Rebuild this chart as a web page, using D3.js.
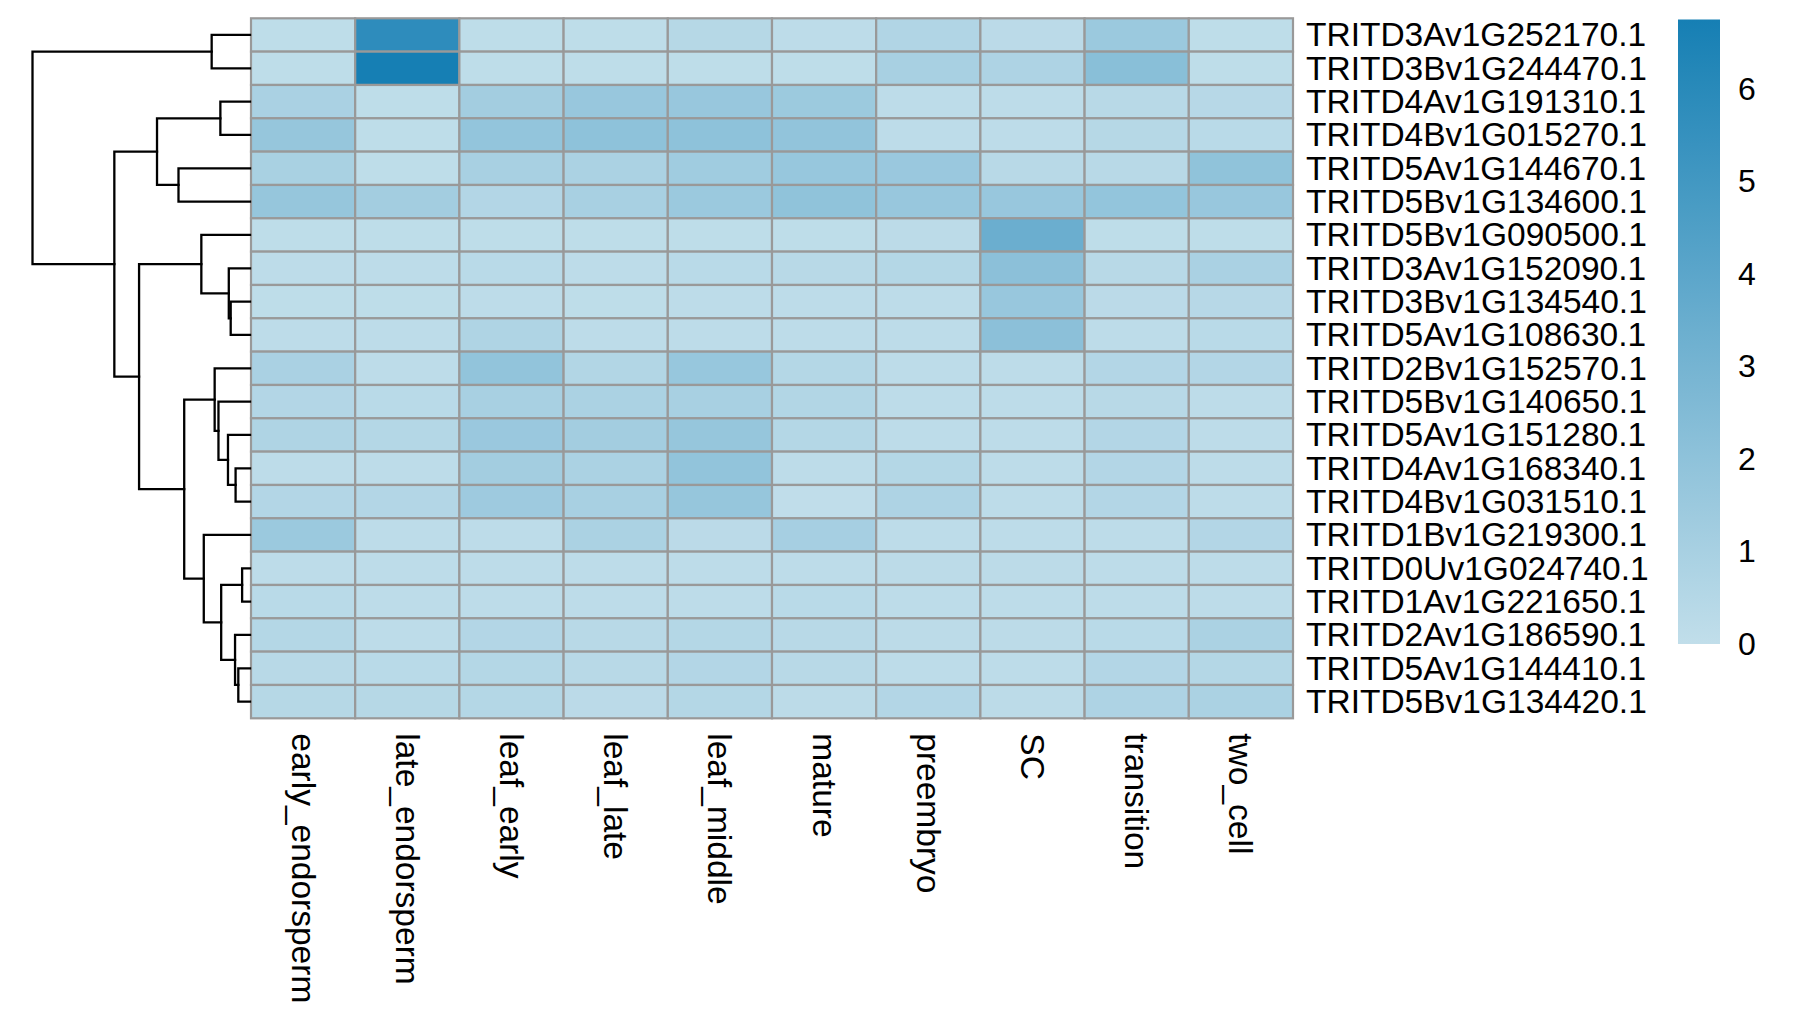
<!DOCTYPE html>
<html>
<head>
<meta charset="utf-8">
<script src="https://cdn.jsdelivr.net/npm/d3@7"></script>
<style>
  html, body { margin: 0; padding: 0; background: #ffffff; }
  svg { display: block; }
  text { font-family: "Liberation Sans", Arial, Helvetica, sans-serif; fill: #000; }
</style>
</head>
<body>
<svg id="chart" width="1797" height="1032"></svg>
<script>
// ---------------- data ----------------
const genes = [
  "TRITD3Av1G252170.1","TRITD3Bv1G244470.1","TRITD4Av1G191310.1","TRITD4Bv1G015270.1",
  "TRITD5Av1G144670.1","TRITD5Bv1G134600.1","TRITD5Bv1G090500.1","TRITD3Av1G152090.1",
  "TRITD3Bv1G134540.1","TRITD5Av1G108630.1","TRITD2Bv1G152570.1","TRITD5Bv1G140650.1",
  "TRITD5Av1G151280.1","TRITD4Av1G168340.1","TRITD4Bv1G031510.1","TRITD1Bv1G219300.1",
  "TRITD0Uv1G024740.1","TRITD1Av1G221650.1","TRITD2Av1G186590.1","TRITD5Av1G144410.1",
  "TRITD5Bv1G134420.1"
];
const samples = ["early_endorsperm","late_endorsperm","leaf_early","leaf_late","leaf_middle",
                 "mature","preembryo","SC","transition","two_cell"];

// expression values, one row per gene (same order as genes), columns as samples
const values = [
  [0.10, 5.80, 0.10, 0.10, 0.45, 0.15, 0.65, 0.25, 1.50, 0.10],
  [0.10, 6.75, 0.10, 0.10, 0.10, 0.10, 1.00, 0.75, 2.20, 0.10],
  [0.90, 0.10, 1.20, 1.60, 1.60, 1.45, 0.15, 0.15, 0.35, 0.40],
  [1.70, 0.10, 1.80, 2.00, 2.00, 1.85, 0.15, 0.15, 0.45, 0.30],
  [0.95, 0.10, 1.00, 0.85, 1.30, 1.65, 1.55, 0.35, 0.35, 1.95],
  [1.70, 1.20, 0.55, 1.00, 1.50, 1.95, 1.60, 1.60, 1.80, 1.60],
  [0.10, 0.10, 0.10, 0.10, 0.10, 0.10, 0.20, 3.40, 0.10, 0.10],
  [0.15, 0.15, 0.30, 0.15, 0.30, 0.35, 0.50, 2.10, 0.35, 0.90],
  [0.10, 0.10, 0.15, 0.10, 0.15, 0.15, 0.15, 1.60, 0.25, 0.40],
  [0.15, 0.15, 0.70, 0.15, 0.15, 0.15, 0.15, 2.10, 0.15, 0.30],
  [0.90, 0.15, 1.85, 0.60, 1.65, 0.50, 0.15, 0.15, 0.55, 0.55],
  [0.55, 0.30, 1.00, 0.85, 1.00, 0.60, 0.15, 0.15, 0.35, 0.15],
  [0.70, 0.50, 1.55, 1.20, 1.70, 0.50, 0.15, 0.15, 0.55, 0.15],
  [0.15, 0.15, 1.20, 0.85, 1.85, 0.15, 0.50, 0.15, 0.55, 0.15],
  [0.55, 0.55, 1.40, 1.00, 1.70, 0.05, 0.75, 0.15, 0.55, 0.15],
  [1.50, 0.15, 0.15, 0.85, 0.25, 1.05, 0.15, 0.15, 0.15, 0.55],
  [0.15, 0.15, 0.15, 0.15, 0.15, 0.15, 0.20, 0.20, 0.15, 0.15],
  [0.30, 0.15, 0.15, 0.15, 0.15, 0.30, 0.15, 0.15, 0.15, 0.15],
  [0.50, 0.15, 0.55, 0.35, 0.50, 0.35, 0.20, 0.20, 0.30, 0.85],
  [0.35, 0.30, 0.50, 0.35, 0.55, 0.35, 0.15, 0.15, 0.55, 0.50],
  [0.45, 0.45, 0.50, 0.25, 0.50, 0.20, 0.55, 0.20, 0.75, 0.85]
];

// row dendrogram, hclust-style: negative = leaf (1-based row), positive = earlier merge (1-based)
const mergeLeft  = [-17, -20, -14, -19,  -9,  -8, -13,  1,  -3, -12, -11,  -1, -16,  -7, 11,  -5,  9, 14, 17, 12];
const mergeRight = [-18, -21, -15,   2, -10,   5,   3,  4,  -4,   7,  10,  -2,   8,   6, 13,  -6, 16, 15, 18, 19];
const mergeHeight = [0.29, 0.43, 0.53, 0.55, 0.71, 0.78, 0.81, 1.06, 1.09, 1.16,
                     1.30, 1.41, 1.70, 1.79, 2.42, 2.63, 3.42, 4.08, 4.99, 8.00];

const legendTicks = [0, 1, 2, 3, 4, 5, 6];

// ---------------- layout ----------------
const svg = d3.select("#chart");
const hm = { left: 251, right: 1293, top: 18.3, bottom: 718.3 };
const dendroLeft = 32.5;

const x = d3.scaleBand().domain(samples).range([hm.left, hm.right]).padding(0);
const y = d3.scaleBand().domain(genes).range([hm.top, hm.bottom]).padding(0);

const vmax = d3.max(values.flat());
const color = d3.scaleLinear().domain([0, vmax]).range(["#c1deea", "#167fb4"]).interpolate(d3.interpolateRgb);

// cells
const cells = [];
values.forEach((row, i) => row.forEach((v, j) => cells.push({ g: genes[i], s: samples[j], v })));
svg.append("g").selectAll("rect").data(cells).join("rect")
  .attr("x", d => x(d.s))
  .attr("y", d => y(d.g))
  .attr("width", x.bandwidth())
  .attr("height", y.bandwidth())
  .attr("fill", d => color(d.v))
  .attr("stroke", "#999999")
  .attr("stroke-width", 2.2);

// row labels
svg.append("g").selectAll("text").data(genes).join("text")
  .attr("x", hm.right + 13)
  .attr("y", d => y(d) + y.bandwidth() / 2)
  .attr("dominant-baseline", "central")
  .attr("font-size", 33.5)
  .text(d => d);

// column labels (rotated)
svg.append("g").selectAll("text").data(samples).join("text")
  .attr("transform", d => `translate(${x(d) + x.bandwidth() / 2},${hm.bottom + 15}) rotate(90)`)
  .attr("dominant-baseline", "central")
  .attr("font-size", 33.5)
  .text(d => d);

// dendrogram
const hx = d3.scaleLinear().domain([0, d3.max(mergeHeight)]).range([hm.left - 1, dendroLeft]);
const nodeY = [], nodeX = [];
function childPos(c) {
  if (c < 0) { const g = genes[-c - 1]; return { x: hx(0), y: y(g) + y.bandwidth() / 2 }; }
  return { x: nodeX[c - 1], y: nodeY[c - 1] };
}
const dPaths = [];
mergeLeft.forEach((a, k) => {
  const pa = childPos(a), pb = childPos(mergeRight[k]);
  const xm = hx(mergeHeight[k]);
  nodeX[k] = xm; nodeY[k] = (pa.y + pb.y) / 2;
  dPaths.push(`M${pa.x},${pa.y}H${xm}V${pb.y}H${pb.x}`);
});
svg.append("g").selectAll("path").data(dPaths).join("path")
  .attr("d", d => d)
  .attr("fill", "none")
  .attr("stroke", "#000")
  .attr("stroke-width", 2.3)
  .attr("stroke-linecap", "square");

// legend
const leg = { x: 1678, w: 42, top: 19.5, bottom: 644 };
const ly = d3.scaleLinear().domain([0, vmax]).range([leg.bottom, leg.top]);
const grad = svg.append("defs").append("linearGradient")
  .attr("id", "lg").attr("x1", 0).attr("y1", 1).attr("x2", 0).attr("y2", 0);
d3.range(0, 1.0001, 0.1).forEach(t => {
  grad.append("stop").attr("offset", t).attr("stop-color", color(t * vmax));
});
svg.append("rect")
  .attr("x", leg.x).attr("y", ly(vmax))
  .attr("width", leg.w).attr("height", ly(0) - ly(vmax))
  .attr("fill", "url(#lg)");
svg.append("g").selectAll("text").data(legendTicks).join("text")
  .attr("x", leg.x + leg.w + 18)
  .attr("y", d => ly(d))
  .attr("dominant-baseline", "central")
  .attr("font-size", 32)
  .text(d => d);
</script>
</body>
</html>
